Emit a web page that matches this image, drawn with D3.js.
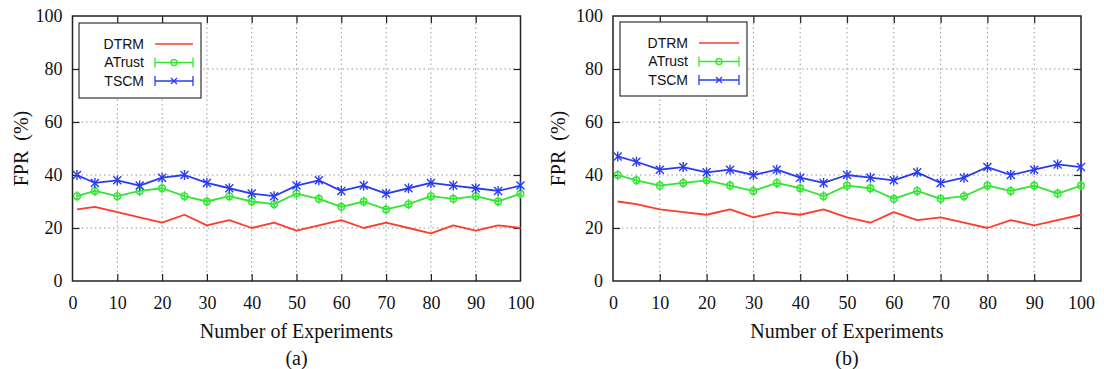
<!DOCTYPE html>
<html>
<head>
<meta charset="UTF-8">
<script src="https://d3js.org/d3.v7.min.js"></script>
<style>
  body { margin: 0; background: #fff; }
  svg { display: block; }
  .tick-label { font-family: "Liberation Serif", serif; font-size: 18px; fill: #111; }
  .title { font-family: "Liberation Serif", serif; font-size: 20px; fill: #111; white-space: pre; }
  .legend-text { font-family: "Liberation Sans", sans-serif; font-size: 14px; fill: #111; }
  .grid { stroke: #999; stroke-width: 1; stroke-dasharray: 1.5,3; }
</style>
</head>
<body>
<svg id="chart" width="1104" height="369"></svg>
<script>
// experiment numbers (x axis)
const experiments = [1, 5, 10, 15, 20, 25, 30, 35, 40, 45, 50, 55, 60, 65, 70, 75, 80, 85, 90, 95, 100];
const xTicks = [0, 10, 20, 30, 40, 50, 60, 70, 80, 90, 100];
const yTicks = [0, 20, 40, 60, 80, 100];
const seriesNames = ["DTRM", "ATrust", "TSCM"];
const seriesColors = ["#ff3b2b", "#33e633", "#2a3cf0"];

// panel (a)
const dtrmA   = [27, 28, 26, 24, 22, 25, 21, 23, 20, 22, 19, 21, 23, 20, 22, 20, 18, 21, 19, 21, 20];
const atrustA = [32, 34, 32, 34, 35, 32, 30, 32, 30, 29, 33, 31, 28, 30, 27, 29, 32, 31, 32, 30, 33];
const tscmA   = [40, 37, 38, 36, 39, 40, 37, 35, 33, 32, 36, 38, 34, 36, 33, 35, 37, 36, 35, 34, 36];

// panel (b)
const dtrmB   = [30, 29, 27, 26, 25, 27, 24, 26, 25, 27, 24, 22, 26, 23, 24, 22, 20, 23, 21, 23, 25];
const atrustB = [40, 38, 36, 37, 38, 36, 34, 37, 35, 32, 36, 35, 31, 34, 31, 32, 36, 34, 36, 33, 36];
const tscmB   = [47, 45, 42, 43, 41, 42, 40, 42, 39, 37, 40, 39, 38, 41, 37, 39, 43, 40, 42, 44, 43];

const svg = d3.select("#chart");

function drawPanel(opts) {
  const g = svg.append("g");
  const x = d3.scaleLinear().domain([0, 100]).range([opts.left, opts.right]);
  const y = d3.scaleLinear().domain([0, 100]).range([281, 16]);

  // grid
  g.selectAll(".gx").data(xTicks.slice(1, -1)).enter().append("line")
    .attr("class", "grid")
    .attr("x1", d => x(d)).attr("x2", d => x(d))
    .attr("y1", y(0)).attr("y2", y(100));
  g.selectAll(".gy").data(yTicks.slice(1, -1)).enter().append("line")
    .attr("class", "grid")
    .attr("x1", x(0)).attr("x2", x(100))
    .attr("y1", d => y(d)).attr("y2", d => y(d));

  // axes with inward ticks on all four sides
  const bottom = g.append("g").attr("transform", `translate(0,${y(0)})`)
    .call(d3.axisBottom(x).tickValues(xTicks).tickSizeInner(-7).tickSizeOuter(0).tickPadding(14));
  const top = g.append("g").attr("transform", `translate(0,${y(100)})`)
    .call(d3.axisTop(x).tickValues(xTicks).tickSizeInner(-7).tickSizeOuter(0).tickFormat(""));
  const left = g.append("g").attr("transform", `translate(${x(0)},0)`)
    .call(d3.axisLeft(y).tickValues(yTicks).tickSizeInner(-7).tickSizeOuter(0).tickPadding(10));
  const right = g.append("g").attr("transform", `translate(${x(100)},0)`)
    .call(d3.axisRight(y).tickValues(yTicks).tickSizeInner(-7).tickSizeOuter(0).tickFormat(""));
  [bottom, top, left, right].forEach(a => {
    a.select(".domain").remove();
    a.selectAll(".tick line").attr("stroke", "#222").attr("stroke-width", 1.2);
    a.selectAll(".tick text").attr("class", "tick-label").attr("fill", "#111");
    // no tick marks at the corners
    a.selectAll(".tick line").filter(d => d === 0 || d === 100).remove();
  });
  bottom.selectAll(".tick text").attr("dy", "0.75em");

  g.append("rect")
    .attr("x", x(0)).attr("y", y(100))
    .attr("width", x(100) - x(0)).attr("height", y(0) - y(100))
    .attr("fill", "none").attr("stroke", "#222").attr("stroke-width", 1.5);

  // series
  const line = d3.line().x((d, i) => x(experiments[i])).y(d => y(d));
  opts.series.forEach((vals, s) => {
    const col = seriesColors[s];
    g.append("path").datum(vals)
      .attr("d", line).attr("fill", "none")
      .attr("stroke", col).attr("stroke-width", 1.8).attr("stroke-linejoin", "round");
    if (s === 0) return;
    const pts = g.append("g").selectAll("g").data(vals).enter().append("g")
      .attr("transform", (d, i) => `translate(${x(experiments[i])},${y(d)})`)
      .attr("stroke", col).attr("stroke-width", 1.4).attr("fill", "none");
    pts.append("line").attr("x1", 0).attr("x2", 0).attr("y1", -5).attr("y2", 5);
    if (s === 1) {
      pts.append("circle").attr("r", 3.3);
    } else {
      pts.append("path").attr("d", "M-4,-4L4,4M-4,4L4,-4");
    }
  });

  // legend
  const L = opts.legend;
  g.append("rect").attr("x", L.x).attr("y", L.y).attr("width", L.w).attr("height", L.h)
    .attr("fill", "#fff").attr("stroke", "#333").attr("stroke-width", 1.2);
  seriesNames.forEach((name, s) => {
    const cy = L.y + 21 + s * 18.5;
    g.append("text").attr("class", "legend-text")
      .attr("x", L.textX).attr("y", cy).attr("dy", "0.35em")
      .attr("text-anchor", "end").text(name);
    const col = seriesColors[s];
    g.append("line").attr("x1", L.lineX1).attr("x2", L.lineX2)
      .attr("y1", cy).attr("y2", cy).attr("stroke", col).attr("stroke-width", 1.5);
    if (s > 0) {
      [L.lineX1, L.lineX2].forEach(px => g.append("line")
        .attr("x1", px).attr("x2", px).attr("y1", cy - 5).attr("y2", cy + 5)
        .attr("stroke", col).attr("stroke-width", 1.3));
      const mx = (L.lineX1 + L.lineX2) / 2;
      if (s === 1) {
        g.append("circle").attr("cx", mx).attr("cy", cy).attr("r", 3)
          .attr("fill", "none").attr("stroke", col).attr("stroke-width", 1.3);
      } else {
        g.append("path").attr("d", `M${mx - 3},${cy - 3}L${mx + 3},${cy + 3}M${mx - 3},${cy + 3}L${mx + 3},${cy - 3}`)
          .attr("stroke", col).attr("stroke-width", 1.3);
      }
    }
  });

  // titles
  const cx = (x(0) + x(100)) / 2;
  g.append("text").attr("class", "title").attr("x", cx).attr("y", 338)
    .attr("text-anchor", "middle").text("Number of Experiments");
  g.append("text").attr("class", "title").attr("x", cx).attr("y", 365)
    .attr("text-anchor", "middle").text(opts.tag);
  g.append("text").attr("class", "title")
    .attr("transform", `translate(${opts.yLabelX},${y(50)}) rotate(-90)`)
    .attr("text-anchor", "middle").text("FPR  (%)");
}

drawPanel({
  left: 72.5, right: 520.5, tag: "(a)", yLabelX: 28,
  series: [dtrmA, atrustA, tscmA],
  legend: { x: 79, y: 23, w: 122, h: 75, textX: 144, lineX1: 155, lineX2: 193 }
});
drawPanel({
  left: 613, right: 1081, tag: "(b)", yLabelX: 565,
  series: [dtrmB, atrustB, tscmB],
  legend: { x: 620, y: 22, w: 127, h: 74, textX: 688, lineX1: 699, lineX2: 739 }
});
</script>
</body>
</html>
